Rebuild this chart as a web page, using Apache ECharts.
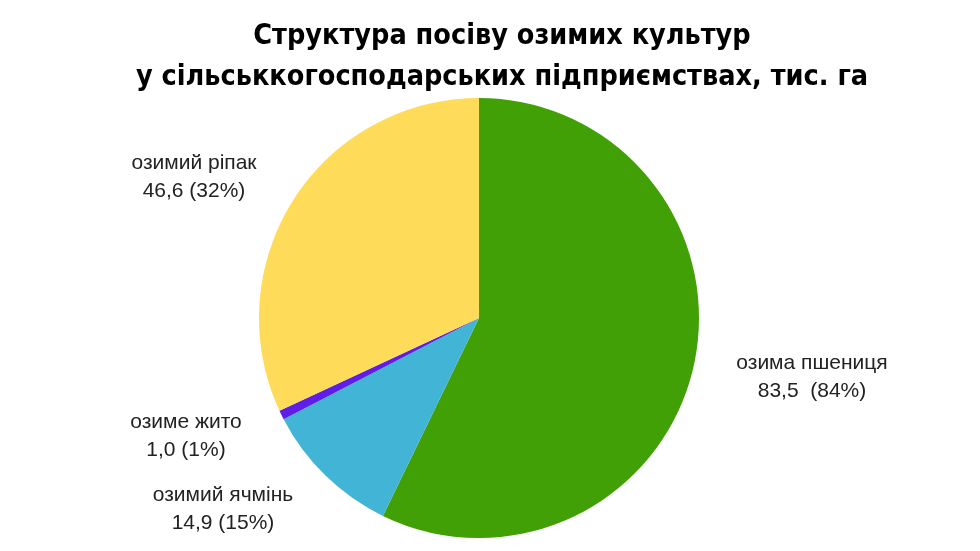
<!DOCTYPE html>
<html><head><meta charset="utf-8">
<script src="https://cdn.jsdelivr.net/npm/echarts@6/dist/echarts.min.js"></script>
<style>html,body{margin:0;padding:0;background:#fff}#c{width:980px;height:551px}</style>
</head><body><div id="c"></div>
<script>
var categories = ['озима пшениця', 'озимий ячмінь', 'озиме жито', 'озимий ріпак'];
var values = [83.5, 14.9, 1.0, 46.6];
var valueLabels = ['83,5  (84%)', '14,9 (15%)', '1,0 (1%)', '46,6 (32%)'];
var colors = ['#40A005', '#42B5D6', '#5E1DE8', '#FFDB5A'];
var labelPos = [[812, 377], [223, 509], [186, 436], [194, 177]];

var chart = echarts.init(document.getElementById('c'));
chart.setOption({
  animation: false,
  title: {
    text: 'Структура посіву озимих культур\nу сільськкогосподарських підприємствах, тис. га',
    left: 497, top: 11, textAlign: 'center',
    textStyle: { fontFamily: '"DejaVu Sans Condensed", "Liberation Sans Narrow", "Arial Narrow", sans-serif', fontWeight: 'bold', fontSize: 28.5, color: '#000', lineHeight: 41 }
  },
  series: [{
    type: 'pie',
    center: [479, 318],
    radius: [0, 220],
    startAngle: 90,
    clockwise: true,
    data: categories.map(function (n, i) {
      return { name: n, value: values[i], itemStyle: { color: colors[i] } };
    }),
    label: {
      show: true,
      position: 'outside',
      fontFamily: 'Liberation Sans',
      fontSize: 21,
      lineHeight: 28,
      color: '#222',
      align: 'center',
      formatter: function (p) { return p.name + '\n' + valueLabels[p.dataIndex]; }
    },
    labelLine: { show: false },
    labelLayout: function (p) {
      return { x: labelPos[p.dataIndex][0], y: labelPos[p.dataIndex][1], align: 'center', verticalAlign: 'middle' };
    }
  }]
});
</script></body></html>
